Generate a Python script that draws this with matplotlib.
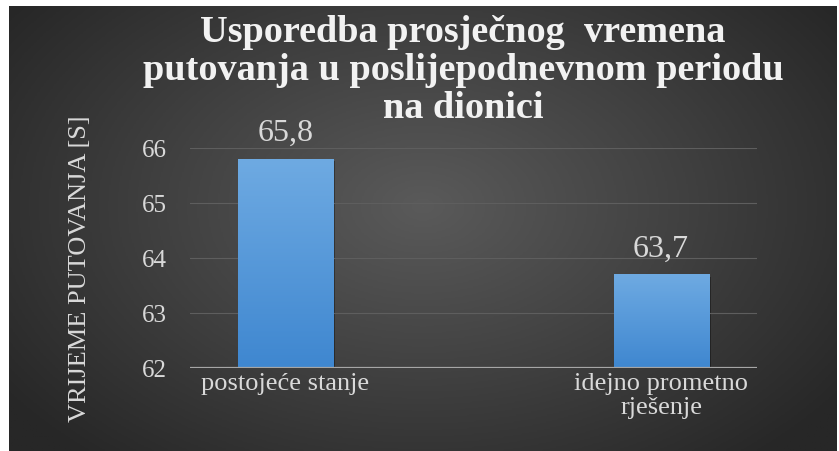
import matplotlib.pyplot as plt
import numpy as np
from matplotlib.colors import LinearSegmentedColormap

categories = ['postojeće stanje', 'idejno prometno\nrješenje']
values = [65.8, 63.7]
value_labels = ['65,8', '63,7']
yticks = [62, 63, 64, 65, 66]

title_lines = ['Usporedba prosječnog  vremena',
               'putovanja u poslijepodnevnom periodu',
               'na dionici']
ylabel = 'VRIJEME PUTOVANJA [S]'

W, H = 839, 452
txt = '#d9d9d9'
plt.rcParams['font.family'] = ['Liberation Serif', 'DejaVu Serif']

fig = plt.figure(figsize=(W / 100, H / 100), dpi=100)
fig.patch.set_facecolor('white')

# dark radial background of the chart area
bg = fig.add_axes([9 / W, 0, (837 - 9) / W, (H - 7) / H])
bg.set_axis_off()
yy, xx = np.mgrid[0:1:300j, 0:1:560j]
r = np.sqrt(((xx - 0.5) / 0.62) ** 2 + ((yy - 0.55) / 0.75) ** 2)
bgmap = LinearSegmentedColormap.from_list('bg', ['#5a5a5a', '#414141', '#272727'])
bg.imshow(np.clip(r, 0, 1), cmap=bgmap, vmin=0, vmax=1, aspect='auto',
          extent=[0, 1, 0, 1], origin='lower')
bg.set_xlim(0, 1)
bg.set_ylim(0, 1)

# plot area
x0, x1 = 190, 757
y_top, y_bot = 149, 369  # pixel rows of 66 and 62
ax = fig.add_axes([x0 / W, 1 - y_bot / H, (x1 - x0) / W, (y_bot - y_top) / H])
ax.patch.set_alpha(0)

pos = np.arange(len(values))
bars = ax.bar(pos, [v - 62 for v in values], bottom=62, width=0.253,
              color='#5b9bd5', zorder=2)

barmap = LinearSegmentedColormap.from_list('bar', ['#3f87d0', '#6eaae2'])
grad = np.linspace(0, 1, 100).reshape(-1, 1)
for b in bars:
    # soft shadow behind the bar
    ax.bar(b.get_x() + b.get_width() / 2 + 0.006, b.get_height(), bottom=62 - 0.04,
           width=b.get_width(), color='black', alpha=0.35, zorder=1.5)
    im = ax.imshow(grad, cmap=barmap, aspect='auto', origin='lower', zorder=2.1,
                   extent=[b.get_x(), b.get_x() + b.get_width(), 62, 62 + b.get_height()])
    im.set_clip_path(b)

for p, v, lab in zip(pos, values, value_labels):
    ax.annotate(lab, (p, v), xytext=(0, 13.5), textcoords='offset points',
                ha='center', va='baseline', color=txt, fontsize=23)

ax.set_xlim(-0.253, 1.255)
ax.set_ylim(62, 66)
ax.set_yticks(yticks)
ax.set_yticklabels([str(t) for t in yticks], color=txt, fontsize=18)
ax.set_xticks(pos)
ax.set_xticklabels(categories, color=txt, fontsize=19, linespacing=1.1)
ax.tick_params(length=0, pad=3)
ax.tick_params(axis='y', pad=17)
ax.yaxis.grid(True, color='#5e5e5e', linewidth=0.8, zorder=0)
for s in ax.spines.values():
    s.set_visible(False)
ax.axhline(62, color='#a6a6a6', linewidth=1.6, zorder=3)
ax.set_ylim(62, 66)

fig.text(80 / W, 1 - 269 / H, ylabel, rotation=90, ha='center', va='center',
         color=txt, fontsize=19)

# title, one line at a time
for y, line in zip([33, 71, 108], title_lines):
    fig.text(463 / W, 1 - y / H, line, ha='center', va='center', color='#f2f2f2',
             fontsize=27.5, fontweight='bold')

fig.savefig('out.png', dpi=100, facecolor=fig.get_facecolor())
